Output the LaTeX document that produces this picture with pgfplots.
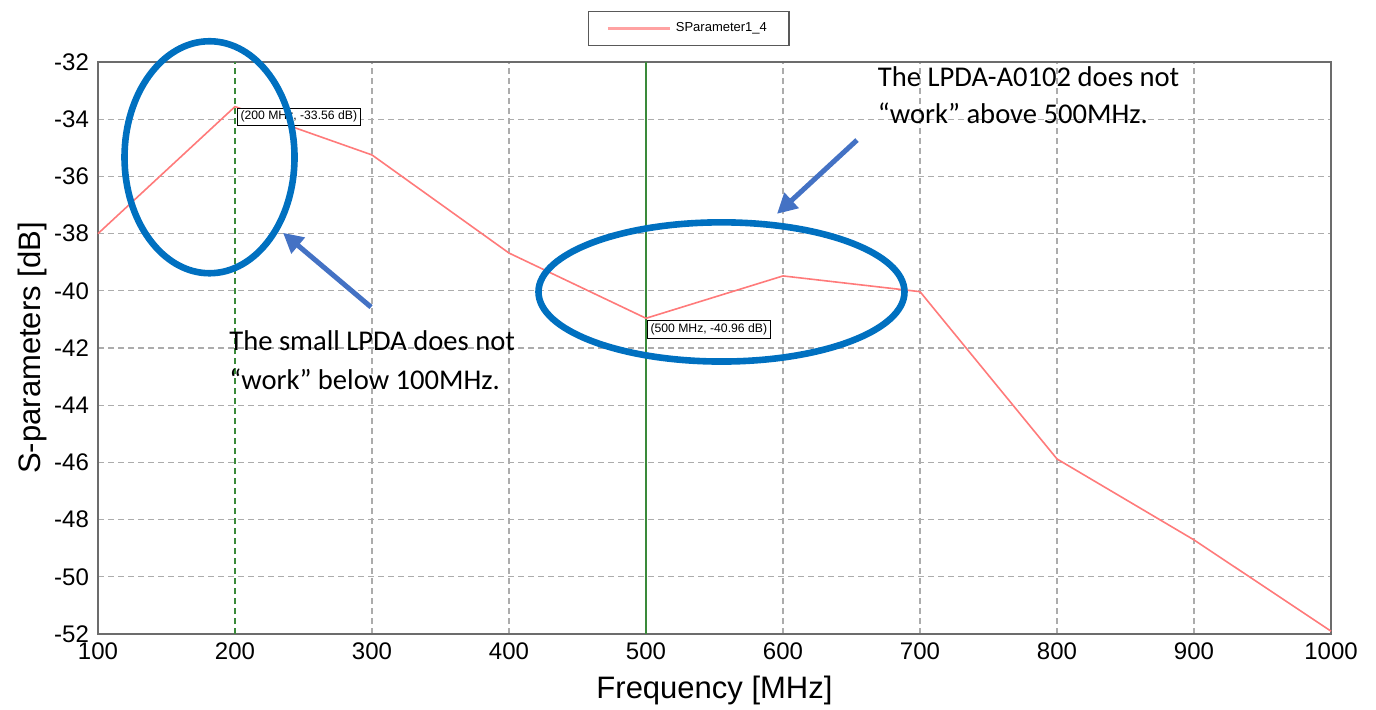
\documentclass[border=0pt]{standalone}
\usepackage{pgfplots}
\pgfplotsset{compat=1.18}
\usepackage{fontspec}
\setmainfont{Liberation Sans}
\newfontfamily\calibri{Carlito}
\usetikzlibrary{arrows.meta}
\definecolor{ellblue}{HTML}{0070C0}
\definecolor{arrblue}{HTML}{4472C4}
\definecolor{mkgreen}{HTML}{3A8A3A}
\definecolor{linered}{HTML}{FF7A7A}
\begin{document}
\begin{tikzpicture}
\useasboundingbox (0,0) rectangle (688pt,354.5pt);
\begin{axis}[
  at={(49pt,37.5pt)}, anchor=south west,
  scale only axis, width=616.5pt, height=286pt,
  xmin=100, xmax=1000, ymin=-52, ymax=-32,
  xtick={100,200,...,1000}, ytick={-52,-50,...,-32},
  major tick length=0pt,
  grid=major,
  major grid style={densely dashed, gray!65, line width=0.6pt},
  axis line style={gray!85!black, line width=0.8pt},
  tick label style={font=\fontsize{12}{14}\selectfont},
  /pgf/number format/assume math mode=true,
  /pgf/number format/1000 sep={},
  xticklabel style={yshift=-1pt},
  yticklabel style={xshift=-1pt},
  xlabel={Frequency [MHz]}, ylabel={S-parameters [dB]},
  label style={font=\fontsize{15.5}{17}\selectfont},
  xlabel style={yshift=-1pt},
  ylabel style={yshift=-3pt},
  clip=false,
  legend style={at={(0.479,1.059)}, anchor=center, font=\fontsize{6.5}{8}\selectfont,
    draw=gray!70!black, line width=0.6pt, inner xsep=9pt, inner ysep=3.5pt},
  legend cell align=left,
  legend image code/.code={\draw[linered!70, line width=1.5pt] (0cm,0cm) -- (1.1cm,0cm);},
]
\addplot[mkgreen, densely dashed, line width=0.7pt, forget plot] coordinates {(200,-52) (200,-32)};
\addplot[mkgreen, line width=0.7pt, forget plot] coordinates {(500,-52) (500,-32)};
\addplot[linered, line width=0.8pt] coordinates {
(100,-38.0) (200,-33.56) (300,-35.25) (400,-38.68) (500,-40.96)
(600,-39.48) (700,-40.03) (800,-45.88) (900,-48.71) (1000,-51.9)};
\addlegendentry{SParameter1\_4}
\node[draw=black, line width=0.5pt, fill=white, anchor=north west, inner sep=1.5pt,
  font=\fontsize{6.1}{7}\selectfont, xshift=1pt, yshift=-0.5pt] at (axis cs:200,-33.56) {(200 MHz, -33.56 dB)};
\node[draw=black, line width=0.5pt, fill=white, anchor=north west, inner sep=1.5pt,
  font=\fontsize{6.1}{7}\selectfont, xshift=0.5pt, yshift=-1pt] at (axis cs:500,-40.96) {(500 MHz, -40.96 dB)};
\draw[ellblue, line width=3.3pt] (axis cs:181.4,-35.33) ellipse [x radius=42.5pt, y radius=58pt];
\draw[ellblue, line width=3.3pt] (axis cs:555.1,-40.04) ellipse [x radius=91.5pt, y radius=34.8pt];
\draw[arrblue, line width=2.5pt, -{Triangle[length=10pt,width=10pt]}] (axis cs:299.3,-40.57) -- (axis cs:235,-37.97);
\draw[arrblue, line width=2.5pt, -{Triangle[length=10pt,width=10pt]}] (axis cs:654,-34.73) -- (axis cs:595.6,-37.31);
\node[anchor=base west, inner sep=0pt, font=\calibri\fontsize{14.3}{16}\selectfont] at (axis cs:195.6,-42.07) {The small LPDA does not};
\node[anchor=base west, inner sep=0pt, font=\calibri\fontsize{14.3}{16}\selectfont] at (axis cs:195.6,-43.45) {“work” below 100MHz.};
\node[anchor=base west, inner sep=0pt, font=\calibri\fontsize{14.3}{16}\selectfont] at (axis cs:669,-32.85) {The LPDA-A0102 does not};
\node[anchor=base west, inner sep=0pt, font=\calibri\fontsize{14.3}{16}\selectfont] at (axis cs:669,-34.15) {“work” above 500MHz.};
\end{axis}
\end{tikzpicture}
\end{document}
